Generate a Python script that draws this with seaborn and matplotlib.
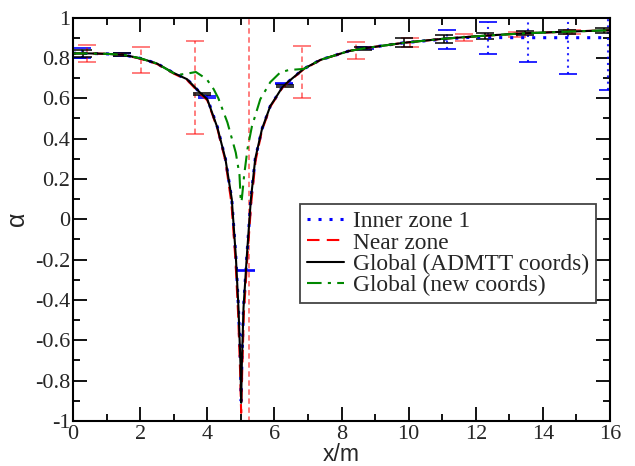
import matplotlib
matplotlib.use("Agg")
import matplotlib.pyplot as plt
import seaborn as sns
import pandas as pd
from matplotlib.ticker import MultipleLocator, FixedLocator, FixedFormatter
from matplotlib.lines import Line2D

# ---------------- data ----------------
x_glob = [0, 0.5, 1.0, 1.5, 2.0, 2.5, 3.0, 3.4, 3.8, 4.0, 4.3, 4.54, 4.73, 4.85,
          4.93, 4.99, 5.01, 5.03, 5.08, 5.18, 5.30, 5.43, 5.63, 5.88, 6.03, 6.23,
          6.38, 6.87, 7.37, 8.22, 8.7, 9.87, 11.05, 12.27, 13.47, 14.73, 16.0]
a_glob = [0.822, 0.822, 0.820, 0.815, 0.798, 0.772, 0.725, 0.694, 0.625, 0.595,
          0.455, 0.30, 0.10, -0.18, -0.44, -0.72, -0.91, -0.72, -0.44, -0.18,
          0.10, 0.30, 0.447, 0.562, 0.600, 0.653, 0.677, 0.745, 0.79, 0.834,
          0.848, 0.875, 0.895, 0.91, 0.922, 0.93, 0.937]

x_near = [0, 0.5, 1.0, 1.5, 2.0, 2.5, 3.0, 3.4, 3.8, 4.0, 4.3, 4.54, 4.72, 4.84,
          4.92, 4.98, 5.01, 5.04, 5.09, 5.19, 5.31, 5.44, 5.63, 5.88, 6.03, 6.23,
          6.38, 6.87, 7.37, 8.22, 8.7, 9.87, 11.05, 12.27, 13.47, 14.73, 16.0]
a_near = [0.822, 0.822, 0.820, 0.815, 0.796, 0.770, 0.722, 0.690, 0.620, 0.590,
          0.450, 0.29, 0.08, -0.20, -0.47, -0.76, -0.96, -0.76, -0.47, -0.20,
          0.08, 0.29, 0.440, 0.558, 0.597, 0.650, 0.675, 0.743, 0.789, 0.834,
          0.848, 0.875, 0.895, 0.91, 0.922, 0.93, 0.937]

x_inner = [0, 0.5, 1.0, 1.5, 2.0, 2.5, 3.0, 3.4, 3.8, 4.0, 4.3, 4.54, 4.73, 4.85,
           4.93, 4.99, 5.01, 5.03, 5.08, 5.18, 5.30, 5.43, 5.63, 5.88, 6.03, 6.23,
           6.38, 6.87, 7.37, 8.22, 8.7, 9.87, 11.05, 11.85, 13.0, 14.5, 16.0]
a_inner = [0.823, 0.822, 0.820, 0.815, 0.798, 0.772, 0.725, 0.694, 0.625, 0.600,
           0.458, 0.30, 0.10, -0.18, -0.44, -0.72, -0.90, -0.72, -0.44, -0.18,
           0.10, 0.30, 0.447, 0.562, 0.600, 0.655, 0.677, 0.745, 0.79, 0.834,
           0.848, 0.875, 0.893, 0.902, 0.90, 0.90, 0.90]

x_new = [0, 0.5, 1.0, 1.5, 2.0, 2.5, 3.09, 3.4, 3.66, 3.98, 4.19, 4.33, 4.6, 4.85,
         4.96, 5.0, 5.03, 5.1, 5.2, 5.33, 5.58, 5.88, 6.17, 6.43, 6.87, 7.37, 8.22,
         8.7, 9.87, 11.05, 12.27, 13.47, 14.73, 16.0]
a_new = [0.822, 0.822, 0.820, 0.815, 0.798, 0.772, 0.715, 0.722, 0.730, 0.695,
         0.645, 0.600, 0.480, 0.330, 0.220, 0.085, 0.100, 0.220, 0.350, 0.460,
         0.595, 0.680, 0.727, 0.740, 0.745, 0.79, 0.834, 0.848, 0.875, 0.895,
         0.91, 0.922, 0.93, 0.937]

# error bars
xe_inner = [0.26, 1.45, 3.98, 5.15, 6.28, 8.71, 11.13, 12.37, 13.57, 14.76, 15.95]
ae_inner = [0.823, 0.815, 0.605, -0.253, 0.673, 0.848, 0.891, 0.90, 0.90, 0.90, 0.90]
ee_inner = [0.024, 0.008, 0.004, 0.003, 0.004, 0.006, 0.046, 0.079, 0.12, 0.18, 0.26]

xe_near = [0.41, 2.03, 3.64, 5.23, 6.82, 8.44, 10.05, 11.65, 13.24, 14.88]
ae_near = [0.820, 0.790, 0.653, -0.05, 0.730, 0.835, 0.876, 0.902, 0.915, 0.928]
ee_near = [0.042, 0.063, 0.231, 3.0, 0.130, 0.043, 0.024, 0.017, 0.014, 0.009]

xe_glob = [0.31, 1.45, 3.83, 6.33, 8.65, 9.87, 11.05, 12.27, 13.47, 14.73, 15.82]
ae_glob = [0.822, 0.817, 0.620, 0.660, 0.846, 0.875, 0.895, 0.910, 0.922, 0.930, 0.935]
ee_glob = [0.016, 0.006, 0.005, 0.005, 0.006, 0.022, 0.020, 0.015, 0.011, 0.010, 0.011]

labels = ["Inner zone 1", "Near zone", "Global (ADMTT coords)", "Global (new coords)"]
xticks = [0, 2, 4, 6, 8, 10, 12, 14, 16]
yticks = [-1, -0.8, -0.6, -0.4, -0.2, 0, 0.2, 0.4, 0.6, 0.8, 1]
ytick_labels = ["-1", "-0.8", "-0.6", "-0.4", "-0.2", "0", "0.2", "0.4", "0.6", "0.8", "1"]

# ---------------- styling ----------------
sns.set_style("ticks")
plt.rcParams["font.family"] = ["Liberation Serif", "DejaVu Serif"]

fig = plt.figure(figsize=(6.35, 4.66), dpi=100)
ax = fig.add_axes([0.1150, 0.0966, 0.8456, 0.8658])

blue = "#0000ff"
red = "#ff0000"
green = "#008800"

styles = [
    dict(color=blue, lw=2.2, ls=(0, (1, 2.6)), dash_capstyle="butt"),
    dict(color=red, lw=1.5, ls=(0, (6, 3.5))),
    dict(color="black", lw=1.5, ls="-"),
    dict(color=green, lw=1.5, ls=(0, (7, 3, 1.5, 3))),
]
series = [(x_inner, a_inner), (x_near, a_near), (x_glob, a_glob), (x_new, a_new)]

# error bars first
ax.errorbar(xe_inner, ae_inner, yerr=ee_inner, fmt="none", ecolor=blue,
            elinewidth=1.5, capsize=6.5, capthick=1.4, alpha=0.85)
for c in list(ax.collections):
    c.set_linestyle((0, (1, 2)))
eb = ax.errorbar(xe_near, ae_near, yerr=ee_near, fmt="none", ecolor=red,
                 elinewidth=1.3, capsize=6.5, capthick=1.3, alpha=0.55)
for lc in eb[2]:
    lc.set_linestyle((0, (3, 2)))
ax.errorbar(xe_glob, ae_glob, yerr=ee_glob, fmt="none", ecolor="black",
            elinewidth=1.1, capsize=6.5, capthick=1.1)

handles = []
for (xs, ys), st, lab in zip(series, styles, labels):
    df = pd.DataFrame({"x": xs, "alpha": ys})
    sns.lineplot(data=df, x="x", y="alpha", ax=ax, sort=False, estimator=None,
                 color=st["color"], linewidth=st["lw"])
    ln = ax.lines[-1]
    ln.set_linestyle(st["ls"])
    if "dash_capstyle" in st:
        ln.set_dash_capstyle(st["dash_capstyle"])
    handles.append(Line2D([], [], color=st["color"], lw=st["lw"], ls=st["ls"],
                          dash_capstyle=st.get("dash_capstyle", "butt")))

ax.set_xlim(0, 16)
ax.set_ylim(-1, 1)
ax.xaxis.set_major_locator(FixedLocator(xticks))
ax.xaxis.set_minor_locator(MultipleLocator(1))
ax.yaxis.set_major_locator(FixedLocator(yticks))
ax.yaxis.set_major_formatter(FixedFormatter(ytick_labels))
ax.yaxis.set_minor_locator(MultipleLocator(0.1))
ax.tick_params(which="major", direction="in", top=True, right=True,
               length=10, width=1.3, labelsize=16, color="black")
ax.tick_params(which="minor", direction="in", top=True, right=True,
               length=5, width=1.3, color="black")
ax.tick_params(axis="x", which="major", pad=3)
ax.tick_params(axis="y", which="major", pad=2)
for sp in ax.spines.values():
    sp.set_linewidth(1.5)
    sp.set_color("black")

ax.set_xlabel("x/m", fontsize=16.5, family=["Liberation Sans", "DejaVu Sans"], labelpad=-1)
ax.set_ylabel("α", fontsize=18, family=["Liberation Sans", "DejaVu Sans"], labelpad=4)

leg = ax.legend(handles, labels, loc="upper left", bbox_to_anchor=(0.423, 0.538),
                fontsize=16.8, frameon=True, fancybox=False, framealpha=1,
                edgecolor="#444444", handlelength=1.6, handletextpad=0.35,
                labelspacing=0.0, borderpad=0.3, borderaxespad=0)
leg.get_frame().set_linewidth(1.3)

fig.savefig("out.png", dpi=100)
